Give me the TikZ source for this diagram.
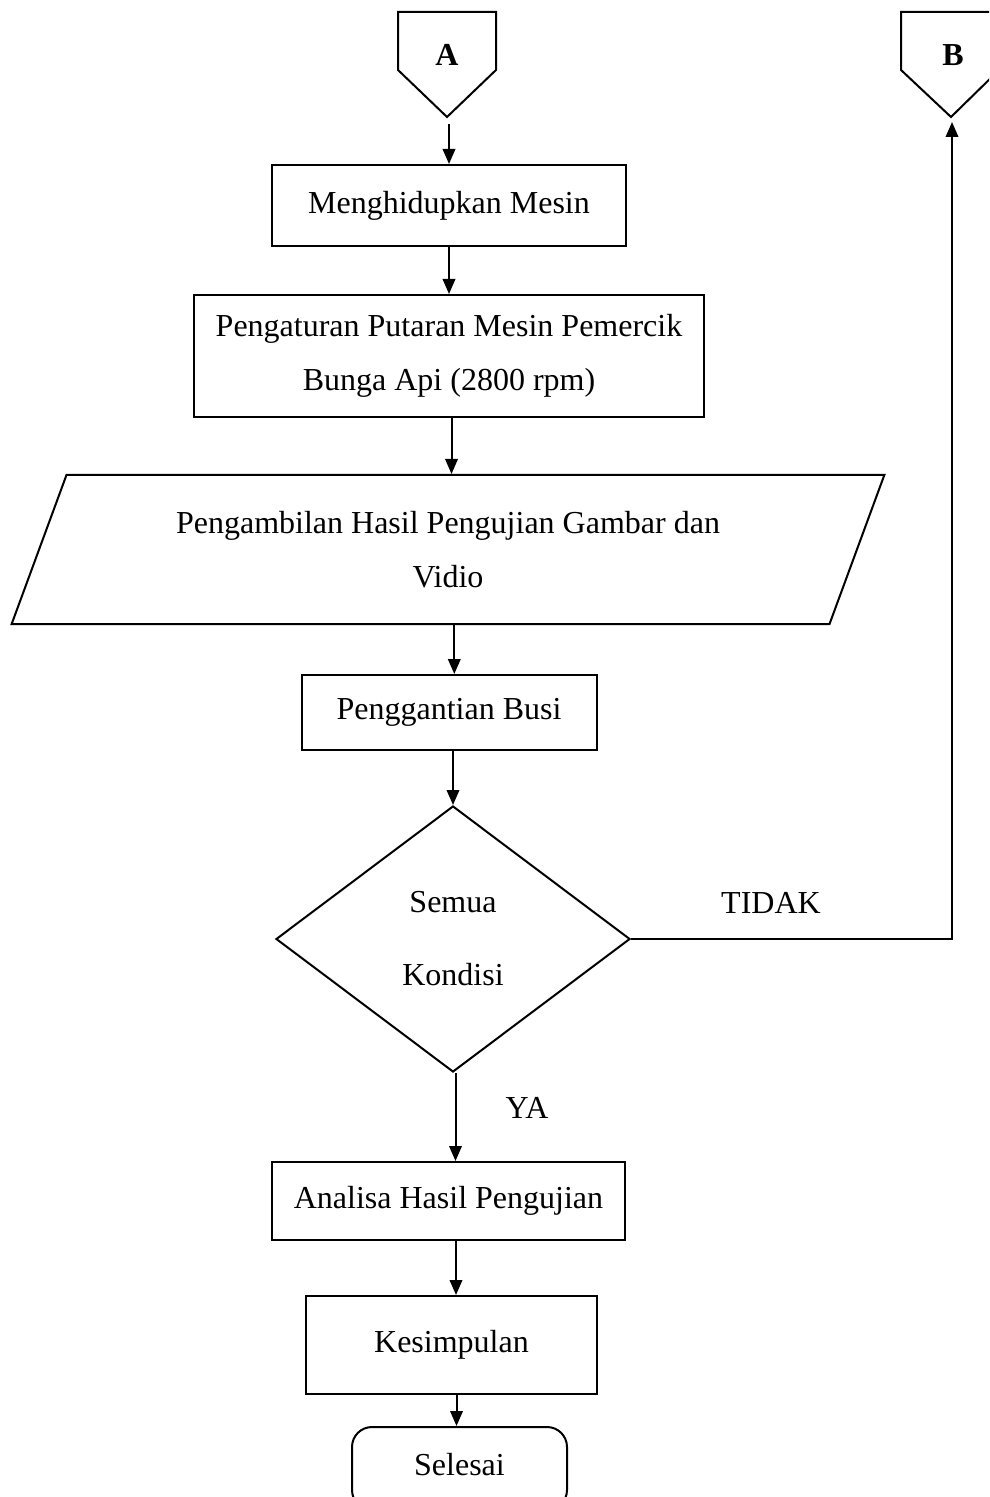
\documentclass[tikz,border=0pt]{standalone}
\usepackage{fontspec}
\setmainfont{Liberation Serif}
\usetikzlibrary{arrows.meta, shapes.geometric, calc}
\newcommand{\pxu}{0.4pt}

\begin{document}
\begin{tikzpicture}[x=\pxu, y=-\pxu, >={Triangle[length=6pt,width=5pt]}, line width=0.8pt,
    txt/.style={inner sep=0pt, align=center, font=\fontsize{12.8pt}{21.6pt}\selectfont},
    box/.style={txt, draw, rectangle},
    io/.style={txt, draw, trapezium, trapezium left angle=63, trapezium right angle=117, trapezium stretches=true},
    cond/.style={txt, draw, diamond},
    stopbox/.style={txt, draw, rectangle, rounded corners=8pt}]
    \clip (0,0) rectangle (989,1497);
    % Off-page connectors
    \draw (398,12) -- (496,12) -- (496,70) -- (447,117) -- (398,70) -- cycle;
    \node [txt, font=\fontsize{12.8pt}{15pt}\bfseries] (A) at (447,55) {A};
    \coordinate (Atip) at (449,117);
    \draw (901,12) -- (999,12) -- (999,70) -- (951,117) -- (901,70) -- cycle;
    \node [txt, font=\fontsize{12.8pt}{15pt}\bfseries] (B) at (953,55) {B};
    \coordinate (Btip) at (952,117);
    % Process steps
    \node [box, minimum width=354*\pxu, minimum height=81*\pxu] (mesin) at (449,205.5) {Menghidupkan Mesin};
    \node [box, minimum width=510*\pxu, minimum height=122*\pxu] (putaran) at (449,356) {Pengaturan Putaran Mesin Pemercik\\Bunga Api (2800 rpm)};
    \node [io, minimum width=874*\pxu, minimum height=149*\pxu] (ambil) at (448,549.5) {Pengambilan Hasil Pengujian Gambar dan\\Vidio};
    \node [box, minimum width=295*\pxu, minimum height=75*\pxu] (busi) at (449,712.5) {Penggantian Busi};
    \node [cond, minimum width=354*\pxu, minimum height=266*\pxu] (kondisi) at (453,939) {Semua\\[7.6pt]Kondisi};
    \node [box, minimum width=353*\pxu, minimum height=78*\pxu] (analisa) at (448.5,1201) {Analisa Hasil Pengujian};
    \node [box, minimum width=291*\pxu, minimum height=98*\pxu] (simpul) at (451.5,1345) {Kesimpulan};
    \node [stopbox, minimum width=215*\pxu, minimum height=83*\pxu] (selesai) at (459.5,1468.5) {\raisebox{3.4pt}{Selesai}};
    % Labels
    \node [txt] (tidak) at (771,903) {TIDAK};
    \node [txt] (ya) at (527,1108) {YA};
    % Arrows
    \draw [->] ([yshift=-3pt]Atip) -- (Atip |- mesin.north);
    \draw [->] (mesin.south) -- (mesin.south |- putaran.north);
    \draw [->] ([xshift=1pt]putaran.south) -- ([xshift=1pt]putaran.south |- ambil.north);
    \draw [->] ([xshift=2.5pt]ambil.south) -- ([xshift=2.5pt]ambil.south |- busi.north);
    \draw [->] (kondisi.north |- busi.south) -- (kondisi.north);
    \draw [->] ([xshift=1pt]kondisi.south) -- ([xshift=1pt]kondisi.south |- analisa.north);
    \draw [->] ([xshift=3pt]analisa.south) -- ([xshift=3pt]analisa.south |- simpul.north);
    \draw [->] ([xshift=2pt]simpul.south) -- ([xshift=2pt]simpul.south |- selesai.north);
    \draw [->, shorten >=2pt] (kondisi.east) -| (Btip);
\end{tikzpicture}
\end{document}
